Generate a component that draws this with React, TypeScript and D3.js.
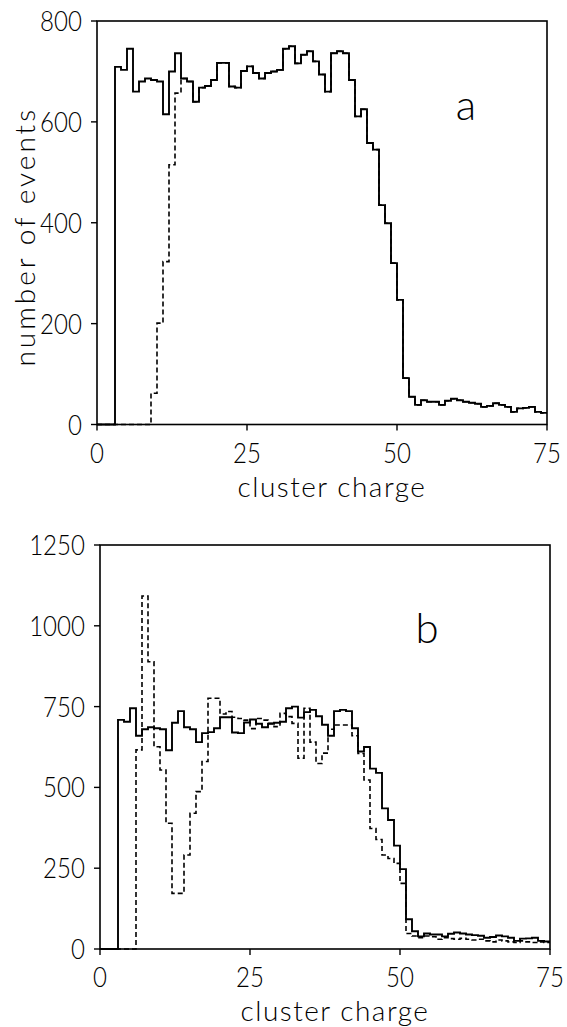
import React from "react";
import * as d3 from "d3";

// cluster charge bins (bin start), width 1, 0..74
const binStarts = d3.range(0, 75);

// solid histogram (same in both panels)
const solidCounts = [
  0, 0, 0, 709, 703, 745, 660, 680, 686, 683,
  680, 615, 700, 736, 686, 680, 640, 668, 671, 683,
  717, 717, 670, 668, 701, 710, 697, 686, 697, 700,
  703, 745, 750, 716, 733, 740, 720, 694, 660, 736,
  740, 736, 683, 611, 625, 558, 545, 435, 399, 320,
  247, 92, 55, 39, 48, 45, 45, 39, 47, 51,
  48, 45, 43, 41, 35, 37, 42, 39, 35, 25,
  32, 33, 35, 25, 23,
];

// dashed histogram, panel a
const dashedCountsA = [
  0, 0, 0, 0, 0, 0, 0, 0, 0, 62,
  201, 323, 515, 657, 686, 680, 640, 668, 671, 683,
  717, 717, 670, 668, 701, 710, 697, 686, 697, 700,
  703, 745, 750, 716, 733, 740, 720, 694, 660, 736,
  740, 736, 683, 611, 625, 558, 545, 435, 399, 320,
  247, 92, 55, 39, 48, 45, 45, 39, 47, 51,
  48, 45, 43, 41, 35, 37, 42, 39, 35, 25,
  32, 33, 35, 25, 23,
];

// dashed histogram, panel b
const dashedCountsB = [
  0, 0, 0, 0, 0, 0, 616, 1092, 889, 626,
  554, 389, 172, 172, 291, 420, 487, 580, 776, 776,
  727, 735, 717, 713, 708, 682, 713, 708, 698, 688,
  729, 719, 698, 590, 745, 640, 574, 606, 680, 693,
  693, 693, 660, 605, 523, 373, 339, 291, 280, 265,
  203, 48, 40, 35, 40, 38, 30, 35, 32, 30,
  33, 30, 28, 30, 25, 22, 28, 25, 22, 20,
  25, 22, 20, 22, 20,
];

const xTicks = [0, 25, 50, 75];
const yTicksA = [0, 200, 400, 600, 800];
const yTicksB = [0, 250, 500, 750, 1000, 1250];

const FONT = "Lato, 'DejaVu Sans', sans-serif";
const SX = 0.86;

type PanelProps = {
  x0: number; x1: number; yTop: number; yBot: number;
  yMax: number; yTicks: number[]; dashed: number[]; letter: string;
  letterX: number; letterY: number; yTitle?: string;
};

function stepPath(xs: d3.ScaleLinear<number, number>, ys: d3.ScaleLinear<number, number>, vals: number[]) {
  const pts: [number, number][] = binStarts.map((b, i) => [b, vals[i]]);
  pts.push([binStarts[binStarts.length - 1] + 1, vals[vals.length - 1]]);
  return d3.line<[number, number]>()
    .x(d => xs(d[0]))
    .y(d => ys(d[1]))
    .curve(d3.curveStepAfter)(pts) || "";
}

function Panel(p: PanelProps) {
  const xs = d3.scaleLinear().domain([0, 75]).range([p.x0, p.x1]);
  const ys = d3.scaleLinear().domain([0, p.yMax]).range([p.yBot, p.yTop]);
  return (
    <g>
      <path d={stepPath(xs, ys, p.dashed)} fill="none" stroke="#000" strokeWidth={1.6} strokeDasharray="5,3" />
      <path d={stepPath(xs, ys, solidCounts)} fill="none" stroke="#000" strokeWidth={1.9} />
      <rect x={xs(0)} y={ys(p.yMax)} width={xs(75) - xs(0)} height={ys(0) - ys(p.yMax)} fill="none" stroke="#000" strokeWidth={1.6} />
      {xTicks.map(t => (
        <g key={"x" + t}>
          <line x1={xs(t)} x2={xs(t)} y1={ys(0)} y2={ys(0) + 6} stroke="#000" strokeWidth={1.4} />
          <g transform={`translate(${xs(t)},${ys(0) + 38}) scale(${SX},1)`}>
            <text textAnchor="middle" fontFamily={FONT} fontWeight={300} fontSize={28}>{t}</text>
          </g>
        </g>
      ))}
      {p.yTicks.map(t => (
        <g key={"y" + t}>
          <line x1={xs(0) - 6} x2={xs(0)} y1={ys(t)} y2={ys(t)} stroke="#000" strokeWidth={1.4} />
          <g transform={`translate(${xs(0) - 15},${ys(t)}) scale(${SX},1)`}>
            <text dy="0.36em" textAnchor="end" fontFamily={FONT} fontWeight={300} fontSize={28}>{t}</text>
          </g>
        </g>
      ))}
      <text x={(xs(0) + xs(75)) / 2 + 10} y={ys(0) + 72} textAnchor="middle" fontFamily={FONT} fontWeight={300} fontSize={28} letterSpacing={1.5}>cluster charge</text>
      {p.yTitle && (
        <text transform={`translate(35,${(ys(0) + ys(p.yMax)) / 2 + 14}) rotate(-90)`} textAnchor="middle" fontFamily={FONT} fontWeight={300} fontSize={28} letterSpacing={3}>{p.yTitle}</text>
      )}
      <text x={p.letterX} y={p.letterY} textAnchor="middle" fontFamily={FONT} fontWeight={300} fontSize={42}>{p.letter}</text>
    </g>
  );
}

export default function App() {
  return (
    <svg width={567} height={1027} style={{ position: "absolute", left: 0, top: 0, background: "#fff" }}>
      <rect width={567} height={1027} fill="#fff" />
      <Panel x0={97} x1={547} yTop={21} yBot={424.5} yMax={800} yTicks={yTicksA} dashed={dashedCountsA} letter="a" letterX={466} letterY={120} yTitle="number of events" />
      <Panel x0={100} x1={550} yTop={545} yBot={949} yMax={1250} yTicks={yTicksB} dashed={dashedCountsB} letter="b" letterX={427} letterY={643} />
    </svg>
  );
}
